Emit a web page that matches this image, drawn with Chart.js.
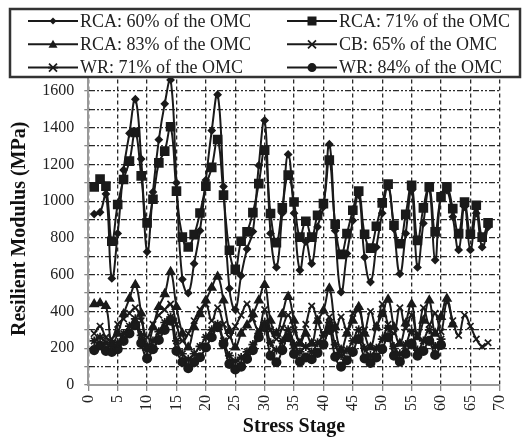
<!DOCTYPE html>
<html>
<head>
<meta charset="utf-8">
<script src="https://cdn.jsdelivr.net/npm/chart.js@4/dist/chart.umd.min.js"></script>
<style>
body { margin: 0; background: #fff; }
</style>
</head>
<body>
<canvas id="graph" width="523" height="440"></canvas>
<script>
const stages = [1,2,3,4,5,6,7,8,9,10,11,12,13,14,15,16,17,18,19,20,21,22,23,24,25,26,27,28,29,30,31,32,33,34,35,36,37,38,39,40,41,42,43,44,45,46,47,48,49,50,51,52,53,54,55,56,57,58,59,60,61,62,63,64,65,66,67,68];

const rca60 = [930,940,1040,580,825,1170,1370,1555,1230,725,1050,1335,1530,1660,1100,575,500,660,840,1115,1385,1580,1080,525,410,595,740,835,1195,1440,825,640,935,1255,935,625,780,660,860,970,1310,840,505,715,895,1035,695,560,750,935,1080,850,605,825,1060,640,880,1070,680,1035,1060,915,735,970,735,935,750,860];
const rca71 = [1078,1120,1082,782,982,1118,1218,1375,1138,882,1011,1209,1273,1405,1055,805,751,818,936,1082,1184,1336,1033,733,629,782,833,938,1096,1278,933,775,964,1142,996,805,891,805,924,987,1224,875,711,824,951,1055,820,745,864,991,1093,869,769,929,1087,787,964,1078,833,1024,1078,960,824,995,820,978,805,882];
const rca83 = [440,445,430,225,280,385,470,545,390,205,315,425,495,615,425,280,205,315,385,460,530,590,460,295,205,280,325,385,460,545,350,280,385,480,350,225,280,225,350,405,525,315,190,280,350,425,280,205,315,385,465,315,225,335,440,260,350,460,280,370,470,330];
const cb65 = [280,320,260,250,330,360,390,420,350,260,330,380,410,440,330,240,280,350,410,440,350,420,330,260,320,380,440,360,300,410,300,250,310,380,300,240,330,430,350,280,370,300,370,300,390,410,300,400,310,440,330,280,420,310,380,260,420,330,390,290,450,350,270,380,320,250,210,230];
const wr71 = [240,260,230,210,230,280,320,360,270,190,240,290,340,370,240,170,140,170,210,260,300,330,240,160,130,150,180,220,280,340,230,190,240,300,220,180,210,180,230,270,340,220,160,190,240,300,200,160,200,250,310,210,170,220,290,190,240,300,210,250];
const wr84 = [190,215,185,180,195,240,280,325,228,145,195,245,300,350,185,125,92,124,151,205,260,315,224,115,85,100,142,190,260,315,160,124,190,260,169,127,150,140,175,220,300,154,100,135,180,250,145,120,150,195,260,160,127,170,225,160,185,240,163,218];

const labels = ['RCA: 60% of the OMC', 'RCA: 71% of the OMC', 'RCA: 83% of the OMC', 'CB: 65% of the OMC', 'WR: 71% of the OMC', 'WR: 84% of the OMC'];
const xTicks = [0,5,10,15,20,25,30,35,40,45,50,55,60,65,70];
const yLabelTicks = [0,200,400,600,800,1000,1200,1400,1600];

const ink = '#1a1a1a';
const serif = '"Liberation Serif", "Times New Roman", serif';

function pts(vals) {
    return vals.map((v, i) => ({ x: stages[i], y: v }));
}

function series(label, vals, style, r) {
    return {
        label: label,
        data: pts(vals),
        borderColor: ink,
        backgroundColor: ink,
        pointBackgroundColor: ink,
        pointBorderColor: ink,
        pointStyle: style,
        pointRadius: r,
        pointBorderWidth: 1.7,
        borderWidth: 2,
        tension: 0.45,
        fill: false
    };
}

// marker drawing for the boxed legend
function marker(ctx, style, x, y) {
    ctx.beginPath();
    if (style === 'rectRot') {
        ctx.moveTo(x, y - 3.5); ctx.lineTo(x + 3.5, y); ctx.lineTo(x, y + 3.5); ctx.lineTo(x - 3.5, y);
        ctx.closePath(); ctx.fill();
    } else if (style === 'rect') {
        ctx.rect(x - 4.5, y - 4.5, 9, 9); ctx.fill();
    } else if (style === 'triangle') {
        ctx.moveTo(x, y - 4.5); ctx.lineTo(x + 4.5, y + 3.5); ctx.lineTo(x - 4.5, y + 3.5);
        ctx.closePath(); ctx.fill();
    } else if (style === 'crossRot') {
        ctx.moveTo(x - 4, y - 4); ctx.lineTo(x + 4, y + 4);
        ctx.moveTo(x + 4, y - 4); ctx.lineTo(x - 4, y + 4);
        ctx.stroke();
    } else if (style === 'star') {
        ctx.moveTo(x - 4, y - 4); ctx.lineTo(x + 4, y + 4);
        ctx.moveTo(x + 4, y - 4); ctx.lineTo(x - 4, y + 4);
        ctx.moveTo(x - 5, y); ctx.lineTo(x + 5, y);
        ctx.stroke();
    } else {
        ctx.arc(x, y, 4.5, 0, Math.PI * 2); ctx.fill();
    }
}

const boxLegend = {
    id: 'boxLegend',
    afterDraw(chart) {
        const ctx = chart.ctx;
        ctx.save();
        ctx.fillStyle = '#fff';
        ctx.fillRect(10, 9, 510, 68);
        ctx.strokeStyle = '#333';
        ctx.lineWidth = 2.5;
        ctx.strokeRect(10, 9, 510, 68);
        ctx.font = '18px ' + serif;
        ctx.textBaseline = 'middle';
        chart.data.datasets.forEach((ds, i) => {
            const col = i % 2;
            const row = Math.floor(i / 2);
            const x0 = col ? 287 : 28;
            const y = 21 + row * 23.3;
            ctx.strokeStyle = ink;
            ctx.fillStyle = ink;
            ctx.lineWidth = 2;
            ctx.beginPath();
            ctx.moveTo(x0, y); ctx.lineTo(x0 + 50, y);
            ctx.stroke();
            ctx.lineWidth = 1.7;
            marker(ctx, ds.pointStyle, x0 + 25, y);
            ctx.fillStyle = '#222';
            ctx.fillText(ds.label, x0 + 52, y + 1);
        });
        ctx.restore();
    }
};

new Chart(document.getElementById('graph').getContext('2d'), {
    type: 'line',
    data: {
        datasets: [
            series(labels[0], rca60, 'rectRot', 3.2),
            series(labels[1], rca71, 'rect', 5.6),
            series(labels[2], rca83, 'triangle', 4.5),
            series(labels[3], cb65, 'crossRot', 4.5),
            series(labels[4], wr71, 'star', 4.5),
            series(labels[5], wr84, 'circle', 4.2)
        ]
    },
    options: {
        responsive: false,
        animation: false,
        layout: { padding: { top: 72.6, right: 10.3, bottom: 0, left: 0 } },
        plugins: {
            legend: { display: false },
            tooltip: { enabled: false }
        },
        scales: {
            x: {
                type: 'linear',
                position: 'bottom',
                min: 0,
                max: 70,
                afterFit: (s) => { s.height = 55; },
                afterBuildTicks: (s) => { s.ticks = xTicks.map(v => ({ value: v })); },
                ticks: {
                    maxRotation: 90,
                    minRotation: 90,
                    autoSkip: false,
                    padding: 4,
                    color: '#222',
                    font: { family: serif, size: 16 }
                },
                grid: { color: '#2a2a2a', lineWidth: 1.3, tickLength: 6, tickColor: '#888' },
                border: { display: true, color: '#999', width: 2, dash: [4, 3] },
                title: {
                    display: true,
                    text: 'Stress Stage',
                    color: '#111',
                    padding: { top: 0, bottom: 1 },
                    font: { family: serif, size: 20, weight: 'bold' }
                }
            },
            y: {
                min: 0,
                max: 1700,
                afterFit: (s) => { s.width = 88.3; },
                ticks: {
                    stepSize: 100,
                    autoSkip: false,
                    padding: 10,
                    color: '#222',
                    font: { family: serif, size: 16 },
                    callback: (v) => yLabelTicks.includes(v) ? String(v) : ''
                },
                grid: { color: '#2a2a2a', lineWidth: 1.3, tickLength: 4, tickColor: '#888' },
                border: { display: true, color: '#999', width: 2, dash: [6, 2, 2, 2, 2, 2] },
                title: {
                    display: true,
                    text: 'Resilient Modulus (MPa)',
                    color: '#111',
                    padding: { top: 8, bottom: 0 },
                    font: { family: serif, size: 20, weight: 'bold' }
                }
            }
        }
    },
    plugins: [boxLegend]
});
</script>
</body>
</html>
